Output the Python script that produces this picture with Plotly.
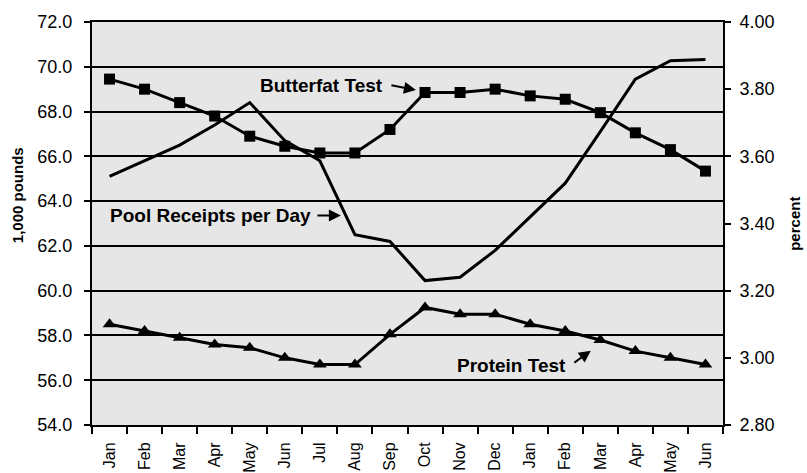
import plotly.graph_objects as go

months = ["Jan", "Feb", "Mar", "Apr", "May", "Jun", "Jul", "Aug", "Sep",
          "Oct", "Nov", "Dec", "Jan", "Feb", "Mar", "Apr", "May", "Jun"]

pool_receipts = [65.1, 65.8, 66.5, 67.4, 68.4, 66.7, 65.8, 62.5, 62.2,
                 60.45, 60.6, 61.8, 63.3, 64.8, 67.1, 69.45, 70.27, 70.32]

butterfat = [3.83, 3.80, 3.76, 3.72, 3.66, 3.63, 3.61, 3.61, 3.68,
             3.79, 3.79, 3.80, 3.78, 3.77, 3.73, 3.67, 3.62, 3.556]

protein = [3.10, 3.08, 3.06, 3.04, 3.03, 3.00, 2.98, 2.98, 3.07,
           3.15, 3.13, 3.13, 3.10, 3.08, 3.053, 3.02, 3.00, 2.98]

left_ticks = [54, 56, 58, 60, 62, 64, 66, 68, 70, 72]
right_ticks = [2.80, 3.00, 3.20, 3.40, 3.60, 3.80, 4.00]

xs = list(range(len(months)))
FONT = "Liberation Sans, Arial, sans-serif"

fig = go.Figure()
fig.add_trace(go.Scatter(x=xs, y=pool_receipts, mode="lines",
                         line=dict(color="black", width=3),
                         name="Pool Receipts per Day", yaxis="y"))
fig.add_trace(go.Scatter(x=xs, y=butterfat, mode="lines+markers",
                         line=dict(color="black", width=3),
                         marker=dict(symbol="square", size=11, color="black"),
                         name="Butterfat Test", yaxis="y2"))
fig.add_trace(go.Scatter(x=xs, y=protein, mode="lines+markers",
                         line=dict(color="black", width=3),
                         marker=dict(symbol="triangle-up", size=12, color="black"),
                         name="Protein Test", yaxis="y2"))

fig.update_layout(
    width=807, height=473,
    margin=dict(l=92, r=84, t=22, b=48),
    paper_bgcolor="white",
    plot_bgcolor="#e6e6e6",
    showlegend=False,
    font=dict(family=FONT, color="black", size=16),
    xaxis=dict(
        range=[-0.5, len(months) - 0.5], automargin=False,
        tickmode="array", tickvals=xs, ticktext=months,
        tickangle=-90, ticks="", showgrid=False, zeroline=False,
        showline=True, linecolor="black", linewidth=2, mirror=True,
        tickfont=dict(size=16), ticklabelstandoff=9,
        minor=dict(tick0=-0.5, dtick=1, ticks="outside", ticklen=7,
                   tickwidth=2, tickcolor="black", showgrid=False),
    ),
    yaxis=dict(
        range=[54, 72], tickmode="array", tickvals=left_ticks, automargin=False,
        tickformat=".1f", ticks="outside", ticklen=6, tickwidth=2,
        tickcolor="black", showline=True, linecolor="black", linewidth=2,
        showgrid=True, gridcolor="black", gridwidth=2, zeroline=False,
        tickfont=dict(size=18), ticklabelstandoff=8,
    ),
    yaxis2=dict(
        range=[2.8, 4.0], tickmode="array", tickvals=right_ticks, automargin=False,
        tickformat=".2f", ticks="outside", ticklen=6, tickwidth=2,
        tickcolor="black", showline=True, linecolor="black", linewidth=2,
        showgrid=False, zeroline=False, overlaying="y", side="right",
        tickfont=dict(size=18), ticklabelstandoff=5,
    ),
)

ann_font = dict(family=FONT, size=19, color="black")
fig.add_annotation(x=6.06, y=69.18, xref="x", yref="y", text="<b>Butterfat Test</b>",
                   showarrow=False, font=ann_font)
fig.add_annotation(x=8.74, y=68.96, xref="x", yref="y", text="", showarrow=True,
                   ax=-26, ay=-5, arrowhead=2, arrowsize=1.2, arrowwidth=2, arrowcolor="black")
fig.add_annotation(x=2.87, y=63.36, xref="x", yref="y", text="<b>Pool Receipts per Day</b>",
                   showarrow=False, font=ann_font)
fig.add_annotation(x=6.60, y=63.36, xref="x", yref="y", text="", showarrow=True,
                   ax=-25, ay=0, arrowhead=2, arrowsize=1.2, arrowwidth=2, arrowcolor="black")
fig.add_annotation(x=11.48, y=56.65, xref="x", yref="y", text="<b>Protein Test</b>",
                   showarrow=False, font=ann_font)
fig.add_annotation(x=13.73, y=57.32, xref="x", yref="y", text="", showarrow=True,
                   ax=-18, ay=13, arrowhead=2, arrowsize=1.2, arrowwidth=2, arrowcolor="black")

title_font = dict(family=FONT, size=15, color="black")
fig.add_annotation(x=-0.119, y=0.57, xref="paper", yref="paper", text="<b>1,000 pounds</b>",
                   xanchor="center", yanchor="middle",
                   textangle=-90, showarrow=False, font=title_font)
fig.add_annotation(x=1.113, y=0.50, xref="paper", yref="paper", text="<b>percent</b>",
                   xanchor="center", yanchor="middle",
                   textangle=-90, showarrow=False, font=title_font)

fig.write_html("out.html", config={"displayModeBar": False},
               post_script="document.body.style.margin='0';document.body.style.overflow='hidden';")
